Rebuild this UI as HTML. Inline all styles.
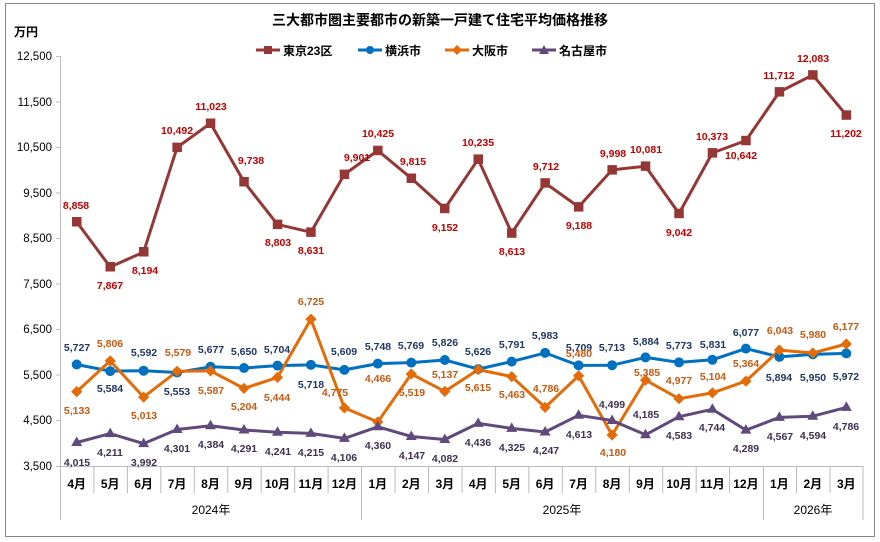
<!DOCTYPE html>
<html><head><meta charset="utf-8"><style>
body{margin:0;background:#fff}
svg{display:block;font-family:"Liberation Sans","Noto Sans CJK JP",sans-serif}
.t text{fill:#c00000}.y text{fill:#1f3864}.o text{fill:#c55a11}.n text{fill:#3f3151}
.lb text{font-size:10.5px;font-weight:bold;text-anchor:middle}
</style></head><body>
<svg width="880" height="542" viewBox="0 0 880 542">
<rect x="5.5" y="3.5" width="869" height="533" fill="#fff" stroke="#888" stroke-width="1"/>
<text x="440" y="25" font-size="14" font-weight="bold" text-anchor="middle" fill="#000">三大都市圏主要都市の新築一戸建て住宅平均価格推移</text>
<text x="14" y="36" font-size="12" font-weight="bold" fill="#000">万円</text>
<g font-size="12" font-weight="bold" fill="#000">
<line x1="256" y1="50" x2="280" y2="50" stroke="#953735" stroke-width="3"/><rect x="264" y="46" width="8" height="8" fill="#953735"/><text x="283" y="55">東京23区</text>
<line x1="358" y1="50" x2="382" y2="50" stroke="#0070c0" stroke-width="3"/><circle cx="370" cy="50" r="4" fill="#0070c0"/><text x="385" y="55">横浜市</text>
<line x1="445" y1="50" x2="469" y2="50" stroke="#e36c09" stroke-width="3"/><path d="M457 45l5 5-5 5-5-5z" fill="#e36c09"/><text x="472" y="55">大阪市</text>
<line x1="532" y1="50" x2="556" y2="50" stroke="#604a7b" stroke-width="3"/><path d="M544 45l5 9h-10z" fill="#604a7b"/><text x="559" y="55">名古屋市</text>
</g>
<g stroke="#bbb" stroke-width="1">
<line x1="60.5" y1="56" x2="60.5" y2="520"/>
<line x1="56" y1="56.5" x2="60" y2="56.5"/><line x1="56" y1="102" x2="60" y2="102"/><line x1="56" y1="147.5" x2="60" y2="147.5"/><line x1="56" y1="193" x2="60" y2="193"/><line x1="56" y1="238.5" x2="60" y2="238.5"/><line x1="56" y1="284" x2="60" y2="284"/><line x1="56" y1="329.5" x2="60" y2="329.5"/><line x1="56" y1="375" x2="60" y2="375"/><line x1="56" y1="420.5" x2="60" y2="420.5"/>
<line x1="56" y1="466.5" x2="863" y2="466.5"/>
</g>
<g font-size="11.5" text-anchor="end" fill="#000">
<text x="52" y="60">12,500</text><text x="52" y="106">11,500</text><text x="52" y="151">10,500</text><text x="52" y="197">9,500</text><text x="52" y="242">8,500</text><text x="52" y="288">7,500</text><text x="52" y="333">6,500</text><text x="52" y="379">5,500</text><text x="52" y="424">4,500</text><text x="52" y="470">3,500</text>
</g>
<g stroke="#bbb" stroke-width="1">
<path d="M93.9 466v27M127.4 466v27M160.8 466v27M194.3 466v27M227.8 466v27M261.2 466v27M294.7 466v27M328.1 466v27M395 466v27M428.5 466v27M462 466v27M495.4 466v27M528.9 466v27M562.3 466v27M595.8 466v27M629.3 466v27M662.7 466v27M696.2 466v27M729.6 466v27M796.5 466v27M830 466v27"/>
<path d="M361.5 466v54M763.5 466v54M863 466v54"/>
</g>
<g font-size="12" font-weight="bold" text-anchor="middle" fill="#000">
<text x="76.7" y="488">4月</text><text x="110.2" y="488">5月</text><text x="143.6" y="488">6月</text><text x="177.1" y="488">7月</text><text x="210.5" y="488">8月</text><text x="244" y="488">9月</text><text x="277.5" y="488">10月</text><text x="310.9" y="488">11月</text><text x="344.4" y="488">12月</text><text x="377.8" y="488">1月</text><text x="411.3" y="488">2月</text><text x="444.8" y="488">3月</text><text x="478.2" y="488">4月</text><text x="511.7" y="488">5月</text><text x="545.1" y="488">6月</text><text x="578.6" y="488">7月</text><text x="612.1" y="488">8月</text><text x="645.5" y="488">9月</text><text x="679" y="488">10月</text><text x="712.4" y="488">11月</text><text x="745.9" y="488">12月</text><text x="779.4" y="488">1月</text><text x="812.8" y="488">2月</text><text x="846.3" y="488">3月</text>
</g>
<g font-size="12" text-anchor="middle" fill="#000">
<text x="211" y="514">2024年</text><text x="562" y="514">2025年</text><text x="813" y="514">2026年</text>
</g>
<g fill="none" stroke-width="3" stroke-linejoin="round">
<polyline stroke="#953735" points="76.7,221.9 110.2,267 143.6,252.1 177.1,147.4 210.5,123.3 244,181.8 277.5,224.4 310.9,232.2 344.4,174.4 377.8,150.5 411.3,178.3 444.8,208.5 478.2,159.2 511.7,233.1 545.1,183 578.6,206.9 612.1,169.9 645.5,166.2 679,213.5 712.4,152.9 745.9,140.6 779.4,91.9 812.8,75 846.3,115.1"/>
<polyline stroke="#0070c0" points="76.7,364.5 110.2,371.1 143.6,370.7 177.1,372.5 210.5,366.8 244,368 277.5,365.6 310.9,364.9 344.4,369.9 377.8,363.6 411.3,362.6 444.8,360 478.2,369.1 511.7,361.6 545.1,352.9 578.6,365.4 612.1,365.2 645.5,357.4 679,362.4 712.4,359.8 745.9,348.6 779.4,356.9 812.8,354.4 846.3,353.4"/>
<polyline stroke="#e36c09" points="76.7,391.6 110.2,360.9 143.6,397.1 177.1,371.3 210.5,370.9 244,388.4 277.5,377.4 310.9,319.1 344.4,407.9 377.8,422 411.3,374 444.8,391.4 478.2,369.6 511.7,376.6 545.1,407.4 578.6,375.8 612.1,435 645.5,380.1 679,398.7 712.4,392.9 745.9,381.1 779.4,350.1 812.8,353 846.3,344"/>
<polyline stroke="#604a7b" points="76.7,442.5 110.2,433.6 143.6,443.6 177.1,429.5 210.5,425.7 244,430 277.5,432.2 310.9,433.4 344.4,438.4 377.8,426.8 411.3,436.5 444.8,439.5 478.2,423.4 511.7,428.4 545.1,432 578.6,415.3 612.1,420.5 645.5,434.8 679,416.7 712.4,409.3 745.9,430.1 779.4,417.4 812.8,416.2 846.3,407.4"/>
</g>
<g fill="#953735">
<rect x="72" y="217" width="9.5" height="9.5"/><rect x="105.5" y="262" width="9.5" height="9.5"/><rect x="139" y="247" width="9.5" height="9.5"/><rect x="172.4" y="142.6" width="9.5" height="9.5"/><rect x="205.8" y="118.5" width="9.5" height="9.5"/><rect x="239.3" y="177" width="9.5" height="9.5"/><rect x="272.8" y="219.6" width="9.5" height="9.5"/><rect x="306.2" y="227.4" width="9.5" height="9.5"/><rect x="339.7" y="169.6" width="9.5" height="9.5"/><rect x="373.1" y="145.7" width="9.5" height="9.5"/><rect x="406.6" y="173.5" width="9.5" height="9.5"/><rect x="440" y="203.7" width="9.5" height="9.5"/><rect x="473.5" y="154.4" width="9.5" height="9.5"/><rect x="507" y="228.3" width="9.5" height="9.5"/><rect x="540.4" y="178.2" width="9.5" height="9.5"/><rect x="573.9" y="202.1" width="9.5" height="9.5"/><rect x="607.4" y="165.1" width="9.5" height="9.5"/><rect x="640.8" y="161.4" width="9.5" height="9.5"/><rect x="674.3" y="208.7" width="9.5" height="9.5"/><rect x="707.7" y="148.1" width="9.5" height="9.5"/><rect x="741.2" y="135.8" width="9.5" height="9.5"/><rect x="774.7" y="87.1" width="9.5" height="9.5"/><rect x="808.1" y="70.2" width="9.5" height="9.5"/><rect x="841.6" y="110.3" width="9.5" height="9.5"/>
</g>
<g fill="#0070c0">
<circle cx="76.7" cy="364.5" r="5"/><circle cx="110.2" cy="371.1" r="5"/><circle cx="143.6" cy="370.7" r="5"/><circle cx="177.1" cy="372.5" r="5"/><circle cx="210.5" cy="366.8" r="5"/><circle cx="244" cy="368" r="5"/><circle cx="277.5" cy="365.6" r="5"/><circle cx="310.9" cy="364.9" r="5"/><circle cx="344.4" cy="369.9" r="5"/><circle cx="377.8" cy="363.6" r="5"/><circle cx="411.3" cy="362.6" r="5"/><circle cx="444.8" cy="360" r="5"/><circle cx="478.2" cy="369.1" r="5"/><circle cx="511.7" cy="361.6" r="5"/><circle cx="545.1" cy="352.9" r="5"/><circle cx="578.6" cy="365.4" r="5"/><circle cx="612.1" cy="365.2" r="5"/><circle cx="645.5" cy="357.4" r="5"/><circle cx="679" cy="362.4" r="5"/><circle cx="712.4" cy="359.8" r="5"/><circle cx="745.9" cy="348.6" r="5"/><circle cx="779.4" cy="356.9" r="5"/><circle cx="812.8" cy="354.4" r="5"/><circle cx="846.3" cy="353.4" r="5"/>
</g>
<g fill="#e36c09">
<path d="M76.7 386l5.6 5.6-5.6 5.6-5.6-5.6zM110.2 355.3l5.6 5.6-5.6 5.6-5.6-5.6zM143.6 391.5l5.6 5.6-5.6 5.6-5.6-5.6zM177.1 365.7l5.6 5.6-5.6 5.6-5.6-5.6zM210.5 365.3l5.6 5.6-5.6 5.6-5.6-5.6zM244 382.8l5.6 5.6-5.6 5.6-5.6-5.6zM277.5 371.8l5.6 5.6-5.6 5.6-5.6-5.6zM310.9 313.5l5.6 5.6-5.6 5.6-5.6-5.6zM344.4 402.3l5.6 5.6-5.6 5.6-5.6-5.6zM377.8 416.4l5.6 5.6-5.6 5.6-5.6-5.6zM411.3 368.4l5.6 5.6-5.6 5.6-5.6-5.6zM444.8 385.8l5.6 5.6-5.6 5.6-5.6-5.6zM478.2 364l5.6 5.6-5.6 5.6-5.6-5.6zM511.7 371l5.6 5.6-5.6 5.6-5.6-5.6zM545.1 401.8l5.6 5.6-5.6 5.6-5.6-5.6zM578.6 370.2l5.6 5.6-5.6 5.6-5.6-5.6zM612.1 429.4l5.6 5.6-5.6 5.6-5.6-5.6zM645.5 374.5l5.6 5.6-5.6 5.6-5.6-5.6zM679 393.1l5.6 5.6-5.6 5.6-5.6-5.6zM712.4 387.3l5.6 5.6-5.6 5.6-5.6-5.6zM745.9 375.5l5.6 5.6-5.6 5.6-5.6-5.6zM779.4 344.5l5.6 5.6-5.6 5.6-5.6-5.6zM812.8 347.4l5.6 5.6-5.6 5.6-5.6-5.6zM846.3 338.4l5.6 5.6-5.6 5.6-5.6-5.6z"/>
</g>
<g fill="#604a7b">
<path d="M76.7 436.5l5.5 9.5h-11zM110.2 427.6l5.5 9.5h-11zM143.6 437.6l5.5 9.5h-11zM177.1 423.5l5.5 9.5h-11zM210.5 419.7l5.5 9.5h-11zM244 424l5.5 9.5h-11zM277.5 426.2l5.5 9.5h-11zM310.9 427.4l5.5 9.5h-11zM344.4 432.4l5.5 9.5h-11zM377.8 420.8l5.5 9.5h-11zM411.3 430.5l5.5 9.5h-11zM444.8 433.5l5.5 9.5h-11zM478.2 417.4l5.5 9.5h-11zM511.7 422.4l5.5 9.5h-11zM545.1 426l5.5 9.5h-11zM578.6 409.3l5.5 9.5h-11zM612.1 414.5l5.5 9.5h-11zM645.5 428.8l5.5 9.5h-11zM679 410.7l5.5 9.5h-11zM712.4 403.3l5.5 9.5h-11zM745.9 424.1l5.5 9.5h-11zM779.4 411.4l5.5 9.5h-11zM812.8 410.2l5.5 9.5h-11zM846.3 401.4l5.5 9.5h-11z"/>
</g>
<g class="lb t">
<text x="76" y="209">8,858</text><text x="110" y="289">7,867</text><text x="145" y="274">8,194</text><text x="177" y="134">10,492</text><text x="211" y="110">11,023</text><text x="251" y="164">9,738</text><text x="278" y="246">8,803</text><text x="311" y="254">8,631</text><text x="357" y="161">9,901</text><text x="378" y="137">10,425</text><text x="413" y="165">9,815</text><text x="445" y="231">9,152</text><text x="478" y="146">10,235</text><text x="512" y="255">8,613</text><text x="546" y="170">9,712</text><text x="579" y="229">9,188</text><text x="613" y="157">9,998</text><text x="646" y="153">10,081</text><text x="679" y="236">9,042</text><text x="712" y="140">10,373</text><text x="741" y="159">10,642</text><text x="779" y="79">11,712</text><text x="813" y="62">12,083</text><text x="846" y="137">11,202</text>
</g>
<g class="lb y">
<text x="77" y="351">5,727</text><text x="110" y="392">5,584</text><text x="144" y="356">5,592</text><text x="177" y="395">5,553</text><text x="211" y="353">5,677</text><text x="244" y="355">5,650</text><text x="277" y="353">5,704</text><text x="311" y="388">5,718</text><text x="344" y="355">5,609</text><text x="378" y="350">5,748</text><text x="411" y="349">5,769</text><text x="445" y="346">5,826</text><text x="478" y="355">5,626</text><text x="512" y="348">5,791</text><text x="545" y="339">5,983</text><text x="579" y="351">5,709</text><text x="612" y="351">5,713</text><text x="646" y="345">5,884</text><text x="679" y="349">5,773</text><text x="713" y="348">5,831</text><text x="746" y="336">6,077</text><text x="779" y="381">5,894</text><text x="813" y="381">5,950</text><text x="846" y="380">5,972</text>
</g>
<g class="lb o">
<text x="77" y="414">5,133</text><text x="110" y="347">5,806</text><text x="144" y="419">5,013</text><text x="178" y="356">5,579</text><text x="211" y="394">5,587</text><text x="244" y="410">5,204</text><text x="277" y="401">5,444</text><text x="311" y="305">6,725</text><text x="335" y="396">4,775</text><text x="378" y="382">4,466</text><text x="412" y="396">5,519</text><text x="445" y="378">5,137</text><text x="478" y="391">5,615</text><text x="512" y="398">5,463</text><text x="546" y="392">4,786</text><text x="579" y="357">5,480</text><text x="613" y="456">4,180</text><text x="647" y="376">5,385</text><text x="679" y="384">4,977</text><text x="713" y="380">5,104</text><text x="746" y="367">5,364</text><text x="780" y="334">6,043</text><text x="813" y="338">5,980</text><text x="846" y="330">6,177</text>
</g>
<g class="lb n">
<text x="77" y="466">4,015</text><text x="110" y="456">4,211</text><text x="144" y="466">3,992</text><text x="177" y="452">4,301</text><text x="211" y="448">4,384</text><text x="244" y="452">4,291</text><text x="278" y="455">4,241</text><text x="311" y="456">4,215</text><text x="344" y="461">4,106</text><text x="378" y="449">4,360</text><text x="412" y="459">4,147</text><text x="445" y="462">4,082</text><text x="478" y="446">4,436</text><text x="512" y="451">4,325</text><text x="546" y="454">4,247</text><text x="579" y="438">4,613</text><text x="612" y="408">4,499</text><text x="646" y="418">4,185</text><text x="679" y="439">4,583</text><text x="712" y="431">4,744</text><text x="746" y="452">4,289</text><text x="780" y="440">4,567</text><text x="813" y="439">4,594</text><text x="846" y="430">4,786</text>
</g>
</svg>
</body></html>
